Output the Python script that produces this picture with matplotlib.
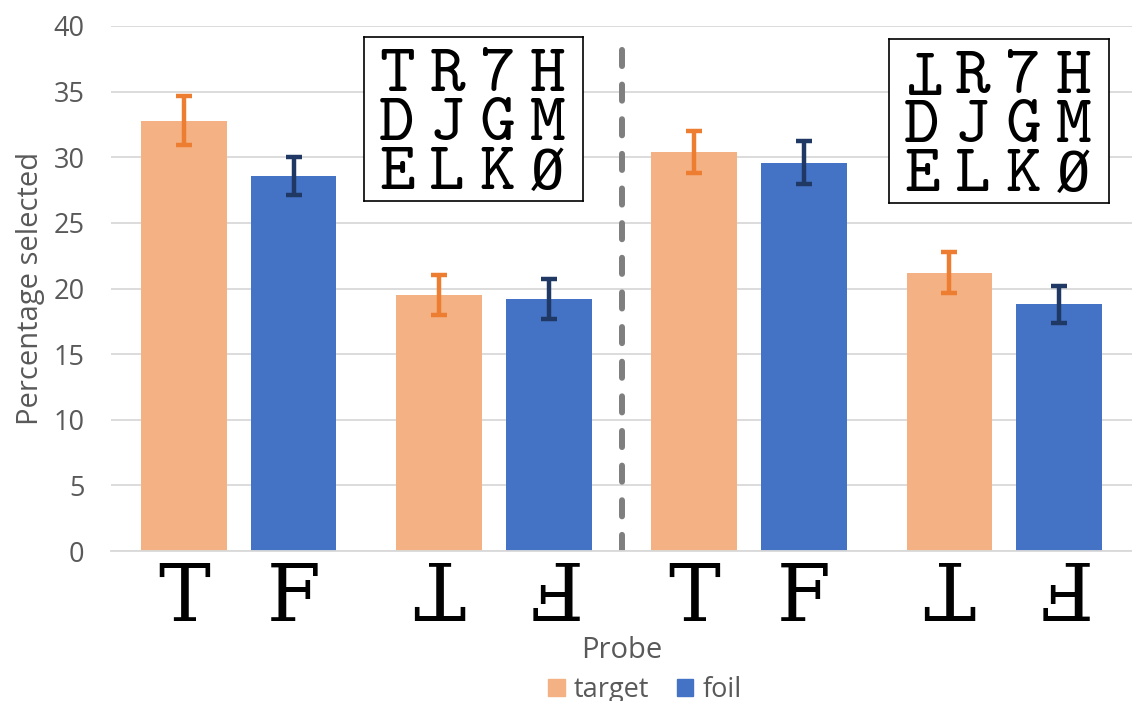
import matplotlib
matplotlib.use("Agg")
import matplotlib.pyplot as plt
import numpy as np
from matplotlib.patches import Patch

# ---- data ----
clusters = ["T", "⊥", "T", "⊥"]
target = [32.8, 19.5, 30.4, 21.2]
target_err = [1.9, 1.55, 1.6, 1.55]
foil = [28.6, 19.2, 29.6, 18.8]
foil_err = [1.45, 1.5, 1.6, 1.4]
tick_labels = ["T", "F", "T", "F", "T", "F", "T", "F"]
tick_rot = [0, 0, 180, 180, 0, 0, 180, 180]
box1_rows = [["T", "R", "7", "H"], ["D", "J", "G", "M"], ["E", "L", "K", "Ø"]]
box2_rows = [["T", "R", "7", "H"], ["D", "J", "G", "M"], ["E", "L", "K", "Ø"]]
box2_rot = [[180, 0, 0, 0], [0, 0, 0, 0], [0, 0, 0, 0]]
yticks = [0, 5, 10, 15, 20, 25, 30, 35, 40]

C_T = "#F4B183"
C_TE = "#ED7D31"
C_F = "#4472C4"
C_FE = "#1F3864"
GRAY = "#595959"

plt.rcParams['font.family'] = ['Open Sans', 'DejaVu Sans']

fig = plt.figure(figsize=(11.32, 7.01), dpi=100)
ax = fig.add_axes([111/1132, 150/701, 1 - 111/1132, (551-26)/701])

x = np.arange(len(clusters))
w = 0.335
off = 0.215
ax.bar(x - off, target, w, color=C_T, zorder=2)
ax.bar(x + off, foil, w, color=C_F, zorder=2)
ax.errorbar(x - off, target, yerr=target_err, fmt='none', ecolor=C_TE,
            elinewidth=3.2, capsize=5.5, capthick=3.2, zorder=3)
ax.errorbar(x + off, foil, yerr=foil_err, fmt='none', ecolor=C_FE,
            elinewidth=3.2, capsize=5.5, capthick=3.2, zorder=3)

ax.set_xlim(-0.5, len(clusters) - 0.5)
ax.set_ylim(0, 40)
ax.set_yticks(yticks)
ax.yaxis.grid(True, color="#D9D9D9", linewidth=1.3, zorder=0)
ax.set_axisbelow(True)
for s in ["top", "right", "left"]:
    ax.spines[s].set_visible(False)
ax.spines["bottom"].set_color("#D9D9D9")
ax.spines["bottom"].set_linewidth(1.3)
ax.tick_params(axis='y', length=0, labelsize=19.5, labelcolor=GRAY, pad=19)
ax.tick_params(axis='x', length=0, pad=29)

pos = np.ravel(np.column_stack([x - off, x + off]))
ax.set_xticks(pos)
ax.set_xticklabels(tick_labels)
for lab, r in zip(ax.get_xticklabels(), tick_rot):
    lab.set_family('DejaVu Serif')
    lab.set_fontsize(56)
    lab.set_rotation(r)
    lab.set_rotation_mode('anchor')
    lab.set_va('center_baseline')
    lab.set_ha('center')
    lab.set_color('black')

ax.axvline(1.5, ymin=0, ymax=0.975, color="#7F7F7F", linewidth=4.3,
           linestyle=(0, (2.7, 3.1)), dash_capstyle='round', zorder=1)

ax.set_ylabel("Percentage selected", fontsize=21, color=GRAY, labelpad=6)
fig.text(622/1132, 1 - 651/701, "Probe", fontsize=21, color=GRAY,
         ha='center', va='center')

# letter boxes
def letter_box(x0, y0, x1, y1, rows, rots):
    bx = fig.add_axes([x0/1132, 1 - y1/701, (x1-x0)/1132, (y1-y0)/701])
    bx.set_xlim(0, 4)
    bx.set_ylim(3, 0)
    bx.set_xticks([])
    bx.set_yticks([])
    for s in bx.spines.values():
        s.set_color('black')
        s.set_linewidth(1.2)
    for i, row in enumerate(rows):
        for j, ch in enumerate(row):
            if ch == "Ø":
                fam, fs = ['DejaVu Sans Mono'], 40
            else:
                fam, fs = ['cmtt10', 'DejaVu Sans Mono'], 49
            bx.text(0.6 + 0.92 * j, 0.6 + 0.9 * i, ch, ha='center',
                    va='center_baseline', fontsize=fs, rotation=rots[i][j],
                    rotation_mode='anchor', family=fam)

letter_box(364, 37, 583, 201, box1_rows, [[0]*4]*3)
letter_box(889, 39, 1109, 203, box2_rows, box2_rot)

handles = [Patch(color=C_T, label="target"), Patch(color=C_F, label="foil")]
fig.legend(handles=handles, loc='center', bbox_to_anchor=(645/1132, 1 - 690/701),
           ncol=2, frameon=False, fontsize=19.5, labelcolor=GRAY,
           handlelength=0.6, handleheight=0.6, handletextpad=0.35, columnspacing=1.0)

fig.savefig("out.png", dpi=100)
